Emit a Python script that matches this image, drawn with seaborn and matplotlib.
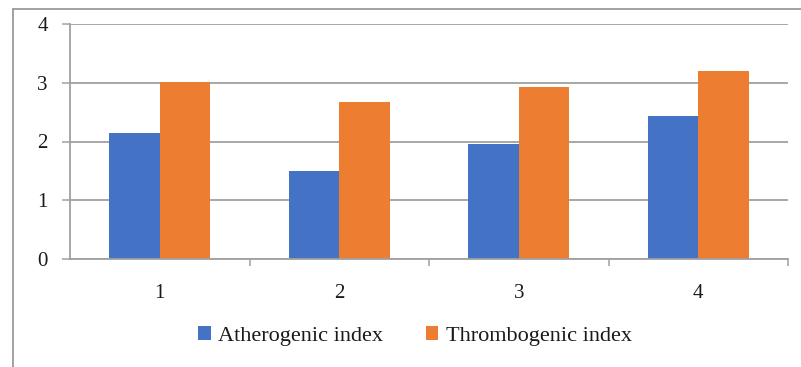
import matplotlib
matplotlib.use("Agg")
import matplotlib.pyplot as plt
from matplotlib.lines import Line2D
import seaborn as sns
import pandas as pd

# Index values per sample group
groups = ["1", "2", "3", "4"]
atherogenic = [2.15, 1.49, 1.95, 2.43]
thrombogenic = [3.02, 2.67, 2.93, 3.20]
series_names = ["Atherogenic index", "Thrombogenic index"]
colors = ["#4472C4", "#ED7D31"]

df = pd.DataFrame({
    "group": groups * 2,
    "value": atherogenic + thrombogenic,
    "series": [series_names[0]] * len(groups) + [series_names[1]] * len(groups),
})

sns.set_theme(style="white")
plt.rcParams["font.family"] = ["Liberation Serif", "DejaVu Serif"]

W, H = 801, 367
fig = plt.figure(figsize=(W / 100, H / 100), dpi=100)
ax = fig.add_axes([70 / W, (H - 259) / H, 718 / W, 235 / H])

sns.barplot(data=df, x="group", y="value", hue="series", order=groups,
            hue_order=series_names, palette=colors, width=0.565, gap=0,
            saturation=1, linewidth=0, ax=ax, legend=True)

grid_c = "#A0A0A0"
text_c = "#1A1A1A"
ax.set_ylim(0, 4)
ax.set_xlim(-0.5, len(groups) - 0.5)
ax.set_yticks([0, 1, 2, 3, 4])
ax.set_yticklabels(["0", "1", "2", "3", "4"])
ax.yaxis.grid(True, color=grid_c, linewidth=1.3)
ax.set_axisbelow(True)
ax.set_xlabel("")
ax.set_ylabel("")

for side in ["top", "right"]:
    ax.spines[side].set_visible(False)
for side in ["left", "bottom"]:
    ax.spines[side].set_color(grid_c)
    ax.spines[side].set_linewidth(1.3)

ax.tick_params(axis="y", which="major", left=True, length=6, width=1.1,
               color=grid_c, labelsize=15, pad=10, labelcolor=text_c)
ax.tick_params(axis="x", which="major", bottom=False, length=0,
               labelsize=15, pad=18, labelcolor=text_c)
ax.set_xticks([i + 0.5 for i in range(len(groups))], minor=True)
ax.tick_params(axis="x", which="minor", bottom=True, length=5, width=1.1,
               color=grid_c)

ax.legend(loc="center", bbox_to_anchor=(415 / W, 1 - 336 / H),
          bbox_transform=fig.transFigure, ncol=2, frameon=False,
          fontsize=16, handlelength=0.55, handleheight=0.55,
          handletextpad=0.35, columnspacing=1.9, labelcolor=text_c)

# thin frame lines along the top and left edges of the figure
fig.add_artist(Line2D([13 / W, 1], [1 - 9 / H, 1 - 9 / H],
                      transform=fig.transFigure, color="#9A9A9A", linewidth=1.3))
fig.add_artist(Line2D([13 / W, 13 / W], [0, 1 - 9 / H],
                      transform=fig.transFigure, color="#9A9A9A", linewidth=1.3))

fig.savefig("out.png", dpi=100)
